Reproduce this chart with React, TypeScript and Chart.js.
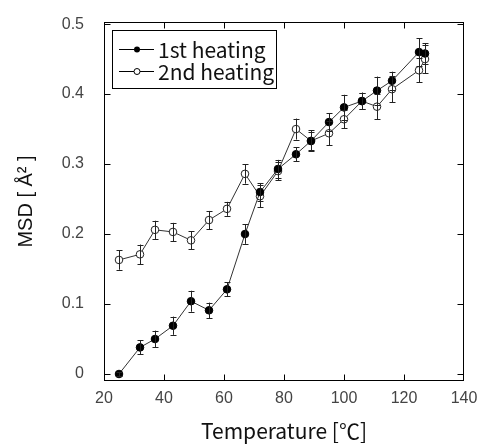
import React, { useEffect, useRef } from "react";
import { Chart, registerables } from "chart.js";

Chart.register(...registerables);

const temps1 = [25, 32, 37, 43, 49, 55, 61, 67, 72, 78, 84, 89, 95, 100, 106, 111, 116, 125, 127];
const msd1 = [0.0, 0.038, 0.05, 0.069, 0.104, 0.091, 0.121, 0.2, 0.26, 0.293, 0.314, 0.333, 0.36, 0.381, 0.39, 0.405, 0.419, 0.46, 0.458];
const err1 = [0.003, 0.01, 0.012, 0.013, 0.015, 0.011, 0.01, 0.014, 0.013, 0.013, 0.01, 0.013, 0.013, 0.018, 0.012, 0.02, 0.013, 0.02, 0.015];

const temps2 = [25, 32, 37, 43, 49, 55, 61, 67, 72, 78, 84, 89, 95, 100, 106, 111, 116, 125, 127];
const msd2 = [0.163, 0.171, 0.206, 0.203, 0.191, 0.22, 0.236, 0.286, 0.254, 0.29, 0.35, 0.333, 0.344, 0.364, 0.39, 0.382, 0.407, 0.434, 0.45];
const err2 = [0.014, 0.014, 0.013, 0.013, 0.013, 0.013, 0.01, 0.014, 0.016, 0.013, 0.015, 0.015, 0.017, 0.013, 0.012, 0.018, 0.019, 0.017, 0.02];

const xTicks = [20, 40, 60, 80, 100, 120, 140];
const yTicks = [0, 0.1, 0.2, 0.3, 0.4, 0.5];

const seriesNames = ["1st heating", "2nd heating"];
const xTitle = "Temperature [℃]";
const yTitle = "MSD [ Å² ]";

const LINE = "#333333";

const errorBarPlugin = {
  id: "errorBars",
  afterDatasetsDraw(chart: any) {
    const ctx = chart.ctx;
    const xs = chart.scales.x;
    const ys = chart.scales.y;
    const sets = [
      { t: temps1, v: msd1, e: err1 },
      { t: temps2, v: msd2, e: err2 },
    ];
    ctx.save();
    ctx.strokeStyle = "#222";
    ctx.lineWidth = 1;
    sets.forEach((s) => {
      s.t.forEach((t, i) => {
        const x = Math.round(xs.getPixelForValue(t)) + 0.5;
        const y1 = ys.getPixelForValue(s.v[i] - s.e[i]);
        const y2 = ys.getPixelForValue(s.v[i] + s.e[i]);
        ctx.beginPath();
        ctx.moveTo(x, y1);
        ctx.lineTo(x, y2);
        ctx.moveTo(x - 3, Math.round(y1) + 0.5);
        ctx.lineTo(x + 3, Math.round(y1) + 0.5);
        ctx.moveTo(x - 3, Math.round(y2) + 0.5);
        ctx.lineTo(x + 3, Math.round(y2) + 0.5);
        ctx.stroke();
      });
    });
    ctx.restore();
  },
};

const framePlugin = {
  id: "frameTicks",
  afterDraw(chart: any) {
    const ctx = chart.ctx;
    const a = chart.chartArea;
    const xs = chart.scales.x;
    const ys = chart.scales.y;
    ctx.save();
    ctx.strokeStyle = "#000";
    ctx.lineWidth = 1;
    const L = Math.round(a.left) + 0.5;
    const R = Math.round(a.right) - 0.5;
    const T = Math.round(a.top) + 0.5;
    const B = Math.round(a.bottom) - 0.5;
    ctx.strokeRect(L, T, R - L, B - T);
    ctx.beginPath();
    const tl = 6;
    xTicks.forEach((v) => {
      const x = Math.round(xs.getPixelForValue(v)) + 0.5;
      if (x <= L + 1 || x >= R - 1) return;
      ctx.moveTo(x, B);
      ctx.lineTo(x, B - tl);
      ctx.moveTo(x, T);
      ctx.lineTo(x, T + tl);
    });
    yTicks.forEach((v) => {
      const y = Math.round(ys.getPixelForValue(v)) + 0.5;
      if (y <= T + 1 || y >= B - 1) return;
      ctx.moveTo(L, y);
      ctx.lineTo(L + tl, y);
      ctx.moveTo(R, y);
      ctx.lineTo(R - tl, y);
    });
    ctx.stroke();

    // legend
    const bx = 112.5, by = 30.5, bw = 164, bh = 58;
    ctx.fillStyle = "#fff";
    ctx.fillRect(bx, by, bw, bh);
    ctx.strokeRect(bx, by, bw, bh);
    const rows = [49, 71];
    rows.forEach((ry, i) => {
      ctx.strokeStyle = "#000";
      ctx.beginPath();
      ctx.moveTo(119, ry + 0.5);
      ctx.lineTo(154, ry + 0.5);
      ctx.stroke();
      ctx.beginPath();
      ctx.arc(137, ry + 0.5, 3, 0, Math.PI * 2);
      if (i === 0) {
        ctx.fillStyle = "#000";
        ctx.fill();
      } else {
        ctx.fillStyle = "#fff";
        ctx.fill();
        ctx.stroke();
      }
      ctx.fillStyle = "#111";
      ctx.font = '21px "Noto Sans CJK JP", "Liberation Sans", sans-serif';
      ctx.textBaseline = "middle";
      ctx.textAlign = "left";
      ctx.fillText(seriesNames[i], 158, ry + 1);
    });
    ctx.restore();
  },
};

export default function App() {
  const ref = useRef<HTMLCanvasElement>(null);
  useEffect(() => {
    if (!ref.current) return;
    const chart = new Chart(ref.current, {
      type: "line",
      data: {
        datasets: [
          {
            label: seriesNames[0],
            data: temps1.map((t, i) => ({ x: t, y: msd1[i] })),
            borderColor: LINE,
            borderWidth: 1,
            pointRadius: 3.8,
            pointBackgroundColor: "#000",
            pointBorderColor: "#000",
            pointBorderWidth: 1,
            tension: 0,
          },
          {
            label: seriesNames[1],
            data: temps2.map((t, i) => ({ x: t, y: msd2[i] })),
            borderColor: LINE,
            borderWidth: 1,
            pointRadius: 3.8,
            pointBackgroundColor: "#fff",
            pointBorderColor: "#222",
            pointBorderWidth: 1,
            tension: 0,
          },
        ],
      },
      options: {
        animation: false,
        responsive: false,
        maintainAspectRatio: false,
        layout: { padding: { top: 22, right: 14, left: 0, bottom: 0 } },
        plugins: { legend: { display: false }, tooltip: { enabled: false } },
        scales: {
          x: {
            type: "linear",
            min: 20,
            max: 140,
            grid: { display: false, drawTicks: false },
            border: { display: false },
            afterBuildTicks: (s: any) => {
              s.ticks = xTicks.map((v) => ({ value: v }));
            },
            afterFit: (s: any) => {
              s.height = 63;
              s.paddingLeft = 0;
              s.paddingRight = 0;
            },
            ticks: {
              color: "#444",
              padding: 8,
              maxRotation: 0,
              font: { family: '"Liberation Sans", Arial, sans-serif', size: 16 },
            },
            title: {
              display: true,
              text: xTitle,
              color: "#111",
              padding: { top: 3, bottom: 0 },
              font: { family: '"Noto Sans CJK JP", "Liberation Sans", sans-serif', size: 21 },
            },
          },
          y: {
            type: "linear",
            min: -0.01,
            max: 0.503,
            grid: { display: false, drawTicks: false },
            border: { display: false },
            afterBuildTicks: (s: any) => {
              s.ticks = yTicks.map((v) => ({ value: v }));
            },
            afterFit: (s: any) => {
              s.width = 104;
              s.paddingTop = 0;
              s.paddingBottom = 0;
            },
            ticks: {
              color: "#444",
              padding: 20,
              callback: (v: any) => (v === 0 ? "0" : Number(v).toFixed(1)),
              font: { family: '"Liberation Sans", Arial, sans-serif', size: 16 },
            },
            title: {
              display: true,
              text: yTitle,
              color: "#111",
              padding: { top: 14, bottom: 0 },
              font: { family: '"Liberation Sans", Arial, sans-serif', size: 20 },
            },
          },
        },
      },
      plugins: [errorBarPlugin, framePlugin],
    });
    return () => chart.destroy();
  }, []);
  return (
    <div style={{ position: "fixed", left: 0, top: 0, width: 478, height: 444, background: "#fff" }}>
      <canvas ref={ref} width={478} height={444} style={{ width: 478, height: 444 }} />
    </div>
  );
}
